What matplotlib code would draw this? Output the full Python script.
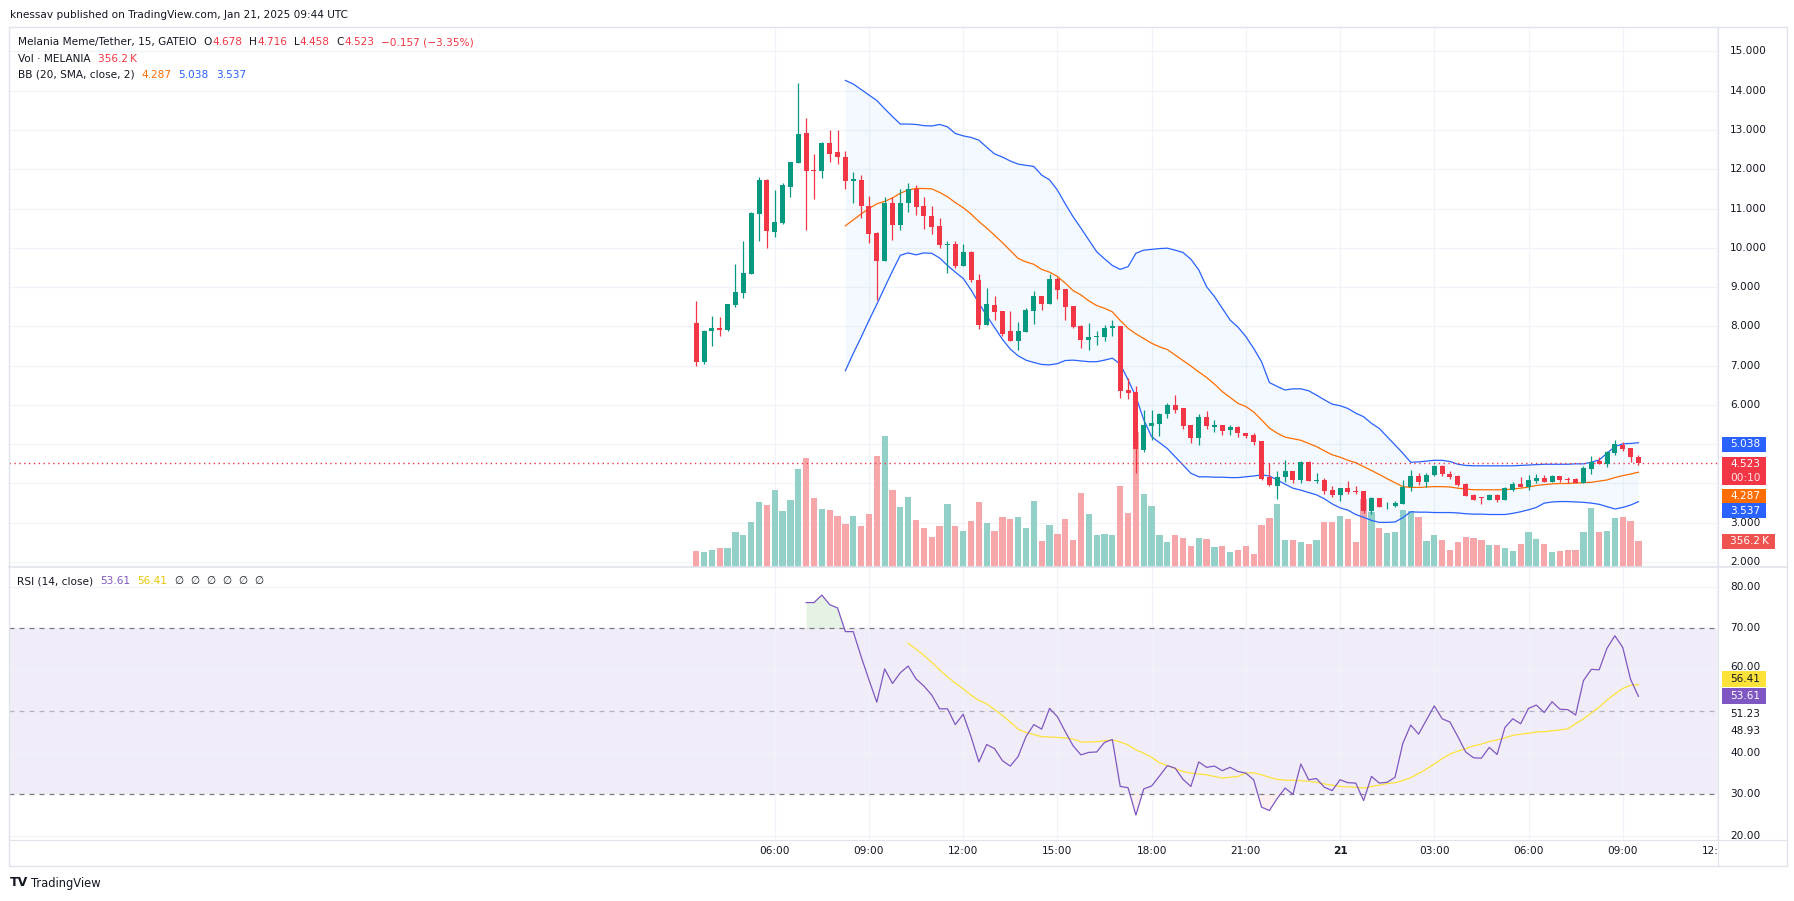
import matplotlib
matplotlib.use("Agg")
import numpy as np
import matplotlib.pyplot as plt
from matplotlib.patches import Rectangle

plt.rcParams["font.family"] = ["DejaVu Sans"]

# MELANIA/USDT 15 min candles (GATEIO), bar 0 = Jan 20 03:30 UTC
opens = [8.08, 7.10, 7.87, 7.97, 7.92, 8.54, 8.85, 9.33, 10.86, 11.73,
         10.40, 10.62, 11.55, 12.16, 12.92, 11.98, 11.95, 12.67, 12.44, 12.31,
         11.70, 11.73, 11.06, 10.38, 9.66, 11.14, 10.58, 11.14, 11.50, 11.06,
         10.81, 10.55, 10.06, 10.09, 9.54, 9.89, 9.18, 8.04, 8.54, 8.39,
         7.88, 7.63, 7.86, 8.39, 8.77, 8.57, 9.21, 8.95, 8.52, 8.01,
         7.65, 7.73, 7.73, 7.96, 8.01, 6.38, 6.33, 4.85, 5.46, 5.51,
         5.78, 6.00, 5.92, 5.49, 5.16, 5.69, 5.45, 5.48, 5.36, 5.44,
         5.29, 5.23, 5.08, 4.17, 3.94, 4.17, 4.32, 4.09, 4.55, 4.07,
         4.10, 3.83, 3.71, 3.89, 3.80, 3.80, 3.30, 3.63, 3.44, 3.43,
         3.48, 3.91, 4.19, 4.04, 4.22, 4.45, 4.24, 4.19, 3.99, 3.71,
         3.64, 3.58, 3.71, 3.58, 3.83, 3.99, 3.91, 4.06, 4.14, 4.04,
         4.19, 4.09, 4.11, 4.01, 4.37, 4.57, 4.50, 4.78, 4.98, 4.90,
         4.678]
highs = [8.65, 7.90, 8.26, 8.24, 8.58, 9.59, 10.17, 10.91, 11.80, 11.75,
         11.47, 11.65, 12.19, 14.20, 13.31, 12.39, 12.69, 13.00, 13.00, 12.46,
         11.93, 11.85, 11.32, 10.40, 11.29, 11.29, 11.50, 11.65, 11.60, 11.29,
         11.06, 10.76, 10.17, 10.17, 10.10, 9.92, 9.33, 8.98, 8.77, 8.39,
         8.39, 8.11, 8.47, 8.90, 8.78, 9.33, 9.26, 8.95, 8.52, 8.04,
         8.09, 7.88, 8.04, 8.16, 8.01, 6.69, 6.48, 5.87, 5.87, 5.80,
         6.05, 6.24, 5.93, 5.49, 5.77, 5.85, 5.62, 5.50, 5.50, 5.46,
         5.29, 5.29, 5.08, 4.52, 4.32, 4.60, 4.32, 4.57, 4.57, 4.27,
         4.14, 3.94, 3.89, 4.06, 3.94, 3.81, 3.66, 3.64, 3.53, 3.56,
         4.09, 4.34, 4.27, 4.27, 4.47, 4.47, 4.32, 4.22, 4.01, 3.73,
         3.66, 3.73, 3.73, 3.91, 4.04, 4.17, 4.22, 4.24, 4.22, 4.22,
         4.19, 4.17, 4.14, 4.45, 4.70, 4.67, 4.83, 5.11, 5.06, 4.90,
         4.716]
lows = [7.00, 7.05, 7.51, 7.76, 7.89, 8.50, 8.72, 9.33, 10.17, 10.00,
        10.28, 10.61, 11.29, 12.16, 10.45, 11.24, 11.78, 12.18, 12.13, 11.50,
        11.14, 10.76, 10.12, 8.67, 9.66, 10.20, 10.45, 10.91, 10.84, 10.48,
        10.35, 10.00, 9.36, 9.49, 9.53, 9.13, 7.93, 8.03, 8.16, 7.76,
        7.62, 7.40, 7.85, 8.06, 8.42, 8.56, 8.70, 8.16, 7.96, 7.45,
        7.40, 7.53, 7.63, 7.76, 6.18, 6.15, 4.27, 4.80, 5.11, 5.21,
        5.67, 5.80, 5.39, 5.03, 4.99, 5.39, 5.31, 5.24, 5.24, 5.18,
        5.16, 4.98, 4.09, 3.94, 3.61, 4.04, 4.01, 4.01, 4.06, 4.01,
        3.73, 3.66, 3.56, 3.73, 3.73, 3.25, 3.22, 3.40, 3.35, 3.40,
        3.47, 3.81, 3.96, 3.91, 4.19, 4.19, 4.12, 3.94, 3.68, 3.58,
        3.48, 3.57, 3.53, 3.57, 3.81, 3.90, 3.83, 4.01, 4.03, 4.03,
        4.04, 4.01, 4.00, 4.00, 4.24, 4.49, 4.42, 4.73, 4.83, 4.55,
        4.458]
closes = [7.10, 7.88, 7.97, 7.92, 8.57, 8.88, 9.36, 10.89, 11.73, 10.43,
          10.66, 11.60, 12.18, 12.90, 11.96, 11.95, 12.67, 12.39, 12.31, 11.70,
          11.75, 11.06, 10.35, 9.66, 11.14, 10.58, 11.14, 11.50, 11.04, 10.81,
          10.53, 10.07, 10.09, 9.54, 9.89, 9.18, 8.04, 8.57, 8.37, 7.81,
          7.63, 7.88, 8.42, 8.77, 8.57, 9.21, 8.93, 8.49, 7.98, 7.65,
          7.73, 7.76, 7.96, 8.01, 6.36, 6.30, 4.88, 5.49, 5.54, 5.78,
          6.01, 5.87, 5.46, 5.16, 5.69, 5.46, 5.48, 5.34, 5.44, 5.29,
          5.21, 5.06, 4.12, 3.96, 4.17, 4.32, 4.09, 4.55, 4.06, 4.10,
          3.81, 3.71, 3.89, 3.78, 3.79, 3.30, 3.63, 3.40, 3.46, 3.50,
          3.91, 4.19, 4.04, 4.22, 4.45, 4.24, 4.17, 3.96, 3.68, 3.58,
          3.62, 3.71, 3.58, 3.89, 3.99, 3.91, 4.09, 4.14, 4.04, 4.19,
          4.09, 4.08, 4.01, 4.39, 4.55, 4.50, 4.80, 5.01, 4.88, 4.680,
          4.523]
# volume in thousands
volume_k = [217, 203, 231, 259, 259, 481, 439, 619, 897, 855,
            1063, 772, 925, 1355, 1507, 952, 800, 786, 703, 592,
            703, 564, 730, 1535, 1812, 1063, 828, 966, 647, 536,
            411, 564, 869, 564, 495, 633, 897, 606, 495, 689,
            661, 689, 536, 911, 356, 578, 453, 661, 370, 1022,
            730, 439, 453, 439, 1119, 744, 1872, 1008, 841, 439,
            342, 439, 398, 287, 398, 384, 273, 287, 203, 231,
            287, 176, 578, 675, 869, 370, 370, 342, 314, 370,
            619, 619, 703, 661, 342, 938, 758, 536, 467, 481,
            786, 772, 689, 356, 439, 370, 231, 342, 411, 398,
            370, 300, 300, 259, 217, 314, 481, 384, 314, 203,
            217, 231, 231, 481, 814, 481, 495, 675, 689, 633,
            356.2]

# Bollinger bands (20, 2) from bar 19
BB_START = 19
bb_upper = [14.26, 14.17, 14.03, 13.89, 13.75, 13.54, 13.34, 13.15, 13.15, 13.14,
            13.11, 13.10, 13.14, 13.08, 12.91, 12.85, 12.81, 12.74, 12.56, 12.39,
            12.31, 12.21, 12.13, 12.10, 12.07, 11.85, 11.73, 11.47, 11.12, 10.79,
            10.50, 10.20, 9.90,
            9.72, 9.55, 9.45, 9.52, 9.86, 9.94, 9.96, 9.98, 9.99, 9.94,
            9.88, 9.71, 9.44, 9.01, 8.76, 8.46, 8.16, 7.98, 7.74, 7.44,
            7.10, 6.57, 6.47, 6.38, 6.41, 6.41, 6.36, 6.25, 6.13, 6.02,
            5.98, 5.91, 5.79, 5.70, 5.53, 5.40, 5.19, 4.98, 4.77, 4.54,
            4.55, 4.57, 4.59, 4.59, 4.56, 4.49, 4.46, 4.45, 4.45, 4.45,
            4.45, 4.45, 4.45, 4.46, 4.47,
            4.48, 4.49, 4.49, 4.49, 4.49, 4.50, 4.50, 4.54, 4.60, 4.77,
            4.94, 5.01, 5.02, 5.038]
bb_basis = [10.56, 10.71, 10.86, 11.00, 11.12, 11.18, 11.27, 11.39, 11.47, 11.51,
            11.51, 11.50, 11.41, 11.30, 11.15, 11.02, 10.86, 10.67, 10.50, 10.32,
            10.13, 9.93, 9.73, 9.64, 9.58, 9.45, 9.38, 9.27, 9.10, 8.91,
            8.80, 8.65, 8.53,
            8.46, 8.37, 8.15, 7.95, 7.81, 7.69, 7.57, 7.48, 7.41, 7.27,
            7.13, 6.99, 6.84, 6.70, 6.53, 6.34, 6.19, 6.04, 5.96, 5.82,
            5.62, 5.41, 5.28, 5.18, 5.14, 5.10, 5.02, 4.94, 4.83, 4.73,
            4.67, 4.59, 4.53, 4.43, 4.33, 4.23, 4.12, 4.02, 3.92, 3.90,
            3.90, 3.91, 3.92, 3.92, 3.91, 3.88, 3.86, 3.84, 3.84, 3.84,
            3.84, 3.84, 3.86, 3.88, 3.91,
            3.95, 3.97, 3.99, 4.00, 4.00, 4.01, 4.02, 4.03, 4.06, 4.09,
            4.15, 4.20, 4.24, 4.287]
bb_lower = [6.87, 7.31, 7.72, 8.15, 8.56, 8.99, 9.41, 9.81, 9.87, 9.82,
            9.87, 9.86, 9.74, 9.55, 9.38, 9.22, 8.93, 8.59, 8.27, 7.97,
            7.67, 7.42, 7.25, 7.14, 7.08, 7.03, 7.02, 7.05, 7.13, 7.14,
            7.12, 7.10, 7.10,
            7.14, 7.19, 7.04, 6.64, 6.21, 5.62, 5.19, 5.04, 4.89, 4.68,
            4.47, 4.26, 4.17, 4.17, 4.16, 4.16, 4.15, 4.15, 4.17, 4.19,
            4.22, 4.19, 4.09, 3.98, 3.88, 3.83, 3.77, 3.71, 3.61, 3.48,
            3.38, 3.32, 3.21, 3.14, 3.06, 3.01, 3.01, 3.02, 3.13, 3.28,
            3.27, 3.27, 3.26, 3.26, 3.26, 3.25, 3.23, 3.22, 3.22, 3.21,
            3.21, 3.21, 3.24, 3.28, 3.33,
            3.39, 3.50, 3.53, 3.54, 3.54, 3.53, 3.52, 3.50, 3.47, 3.41,
            3.35, 3.39, 3.45, 3.537]

# RSI(14) from bar 14, its MA from bar 27
RSI_START = 14
rsi = [76.2, 76.2, 78.0, 75.7, 74.9, 69.2, 69.2, 63.2, 57.6, 52.2,
       60.2, 56.7, 59.3, 60.9, 57.8, 56.1, 53.9, 50.6, 50.6, 46.8,
       49.3, 43.9, 37.8, 42.0, 41.0, 38.1, 36.8,
       39.1, 43.9, 46.8, 45.7, 50.7, 48.7, 45.1, 41.7, 39.5, 40.1,
       40.2, 42.5, 43.2, 31.9, 31.6, 25.0, 31.3, 32.0, 34.4, 36.9,
       36.3, 33.6, 31.9, 37.8, 36.5, 36.8, 35.7, 36.5, 35.5, 35.1,
       33.5, 26.9, 26.1, 29.0, 31.5, 30.0, 37.3, 33.5, 33.8, 31.7,
       30.9, 33.5, 32.8, 32.7, 28.5, 34.3, 32.7, 32.9, 34.1, 42.3,
       46.7, 44.5, 47.9, 51.3, 48.2, 47.4, 43.9, 40.2, 38.8, 38.7,
       41.3, 39.6, 46.1, 48.2, 47.0, 50.7, 51.5, 49.7, 52.3, 50.5,
       50.4, 49.1, 57.4, 60.1, 60.0, 65.2, 68.2, 65.4, 57.7, 53.61]
RSI_MA_START = 27
rsi_ma = [66.4, 65.0, 63.5, 61.8, 60.0, 58.3, 56.8, 55.4, 53.9, 52.6,
          51.8, 50.4, 49.0, 47.4,
          45.7, 44.9, 44.4, 43.9, 43.8, 43.7, 43.6, 43.3, 42.6, 42.6,
          42.7, 42.9, 43.1, 42.6, 41.9, 40.7, 39.9, 38.9, 37.6, 36.9,
          36.2, 35.5, 35.1, 34.9, 34.7, 34.3, 33.9, 34.1, 34.3, 35.1,
          35.2, 34.7, 34.1, 33.6, 33.4, 33.4, 33.3, 33.1, 32.9, 32.5,
          32.2, 31.9, 31.8, 31.7, 31.5, 31.9, 32.2, 32.6, 32.8, 33.3,
          34.0, 35.0, 36.1, 37.3, 38.6, 39.7, 40.4, 41.0, 41.7, 42.1,
          42.7, 43.1, 43.6, 44.2, 44.5, 44.7, 45.0, 45.1, 45.3, 45.5,
          45.8, 47.0, 48.2, 49.6, 51.0, 52.7, 54.2, 55.5, 56.3, 56.41]

time_ticks = [10, 22, 34, 46, 58, 70, 82, 94, 106, 118, 130]
time_labels = ["06:00", "09:00", "12:00", "15:00", "18:00", "21:00", "21",
               "03:00", "06:00", "09:00", "12:00"]
price_ticks = list(range(2, 16))
rsi_grid = [20, 40, 60, 80]
rsi_labels = [20, 30, 40, 60, 70, 80]

# colours
UP, DOWN = "#089981", "#F23645"
UP_VOL, DOWN_VOL = "#93d1c8", "#f7a6a9"
BLUE, ORANGE, PURPLE, YELLOW = "#2962FF", "#FF6D00", "#7E57C2", "#FDE23A"
TEXT, GRID, BORDER = "#131722", "#F0F3FA", "#E0E3EB"
FS = 7.6

# layout in pixels
W, H = 1794, 901
PL, PR = 9, 1717.5
TOP, SEP, RBOT, BBOT, BR = 27.5, 567, 840, 866, 1787


def rect(l, t, r, b):
    return [l / W, 1 - b / H, (r - l) / W, (b - t) / H]


fig = plt.figure(figsize=(W / 100, H / 100), dpi=100, facecolor="white")

ax_grid = fig.add_axes(rect(PL, TOP, PR, SEP))
ax_vol = fig.add_axes(rect(PL, TOP, PR, SEP), sharex=ax_grid)
ax = fig.add_axes(rect(PL, TOP, PR, SEP), sharex=ax_grid, sharey=ax_grid)
ax_rsi = fig.add_axes(rect(PL, SEP, PR, RBOT), sharex=ax_grid)
ax_time = fig.add_axes(rect(PL, RBOT, PR, BBOT), sharex=ax_grid)
ax_grid.set_zorder(0)
ax_vol.set_zorder(1)
ax.set_zorder(2)
for a in (ax_vol, ax, ax_time):
    a.patch.set_visible(False)
for a in (ax_grid, ax_vol, ax, ax_rsi, ax_time):
    for s in a.spines.values():
        s.set_visible(False)
    a.tick_params(left=False, bottom=False, labelleft=False, labelbottom=False)

ax_grid.set_xlim(-87.52, 130.07)
ax_grid.set_ylim(1.874, 15.608)
ax_grid.set_xticks(time_ticks)
ax_grid.set_yticks(price_ticks)
ax_grid.grid(True, color=GRID, lw=0.9)

# volume
n = len(closes)
x = np.arange(n)
o, h, l, c = (np.array(v) for v in (opens, highs, lows, closes))
up = c >= o
ax_vol.bar(x, volume_k, width=0.8, color=np.where(up, UP_VOL, DOWN_VOL), lw=0)
ax_vol.set_ylim(0, 7480)
ax_vol.set_yticks([])

# bollinger bands
xb = np.arange(BB_START, BB_START + len(bb_upper))
ax.fill_between(xb, bb_lower, bb_upper, color="#2196F3", alpha=0.05, lw=0, zorder=1)
ax.plot(xb, bb_upper, color=BLUE, lw=0.9, zorder=3)
ax.plot(xb, bb_lower, color=BLUE, lw=0.9, zorder=3)
ax.plot(xb, bb_basis, color=ORANGE, lw=0.9, zorder=3)

# candles
cols = np.where(up, UP, DOWN)
ax.vlines(x, l, h, colors=cols, lw=0.9, zorder=4)
ax.bar(x, np.maximum(np.abs(c - o), 0.025), width=0.64, bottom=np.minimum(o, c),
       color=cols, lw=0, zorder=5)
ax.axhline(c[-1], color=DOWN, lw=1, ls=(0, (1, 2.5)), zorder=3)

# RSI pane
ax_rsi.set_ylim(18.99, 84.77)
ax_rsi.set_xticks(time_ticks)
ax_rsi.set_yticks(rsi_grid)
ax_rsi.grid(True, color=GRID, lw=0.9)
ax_rsi.axhspan(30, 70, color=PURPLE, alpha=0.1, lw=0, zorder=0)
ax_rsi.axhline(70, color="#787B86", lw=0.9, ls=(0, (4, 4)))
ax_rsi.axhline(30, color="#787B86", lw=0.9, ls=(0, (4, 4)))
ax_rsi.axhline(50, color="#787B86", lw=0.9, ls=(0, (4, 4)), alpha=0.5)
xr = np.arange(RSI_START, RSI_START + len(rsi))
rv = np.array(rsi)
ax_rsi.fill_between(xr, 70, rv, where=rv > 70, interpolate=True, color="#4CAF50", alpha=0.15, lw=0)
ax_rsi.fill_between(xr, 30, rv, where=rv < 30, interpolate=True, color=DOWN, alpha=0.07, lw=0)
ax_rsi.plot(xr, rv, color=PURPLE, lw=0.9, zorder=4)
xm = np.arange(RSI_MA_START, RSI_MA_START + len(rsi_ma))
ax_rsi.plot(xm, rsi_ma, color=YELLOW, lw=0.9, zorder=3)

# time axis
ax_time.set_ylim(0, 1)
for t, lab in zip(time_ticks, time_labels):
    ax_time.text(t, 0.56, lab, ha="center", va="center", fontsize=FS, color=TEXT,
                 clip_on=True, fontweight="bold" if lab == "21" else "normal")

# overlay in pixel coordinates for legends, axis labels and tags
ov = fig.add_axes([0, 0, 1, 1])
ov.set_xlim(0, W)
ov.set_ylim(H, 0)
ov.axis("off")
ov.set_zorder(10)
renderer = fig.canvas.get_renderer()


def py(axis, v):
    return H - axis.transData.transform((0, v))[1]


def line(x0, y0, parts, size=FS):
    for s, col, gap in parts:
        x0 += gap
        t = ov.text(x0, y0, s, color=col, fontsize=size, va="center", ha="left")
        x0 += t.get_window_extent(renderer).width


boxes = []


def tag(y, s, bg, fg="white", w=44, hh=15, top=None):
    t0 = y - hh / 2 if top is None else top
    boxes.append((t0, t0 + hh))
    ov.add_patch(Rectangle((1721.5, t0), w, hh, facecolor=bg, edgecolor="none", zorder=5))
    ov.text(1730, y, s, color=fg, fontsize=FS, va="center", ha="left", zorder=6)


def free(y):
    # axis labels that sit under a value tag are hidden, as on the chart
    return all(not (a - 2 <= y <= b + 2) for a, b in boxes)


ov.add_patch(Rectangle((8.5, 27), BR - 8.5, BBOT - 27, fill=False, ec=BORDER, lw=1))
ov.plot([8.5, BR], [SEP, SEP], color=BORDER, lw=1.2)
ov.plot([8.5, BR], [RBOT, RBOT], color=BORDER, lw=0.8)
ov.plot([PR, PR], [27, BBOT], color=BORDER, lw=0.8)

line(10, 15, [("knessav published on TradingView.com, Jan 21, 2025 09:44 UTC", TEXT, 0)], size=7.6)
chg = c[-1] - c[-2]
line(18, 42.3, [("Melania Meme/Tether, 15, GATEIO", TEXT, 0),
                ("O", TEXT, 7), (f"{o[-1]:.3f}", DOWN, 0),
                ("H", TEXT, 7), (f"{h[-1]:.3f}", DOWN, 0),
                ("L", TEXT, 7), (f"{l[-1]:.3f}", DOWN, 0),
                ("C", TEXT, 7), (f"{c[-1]:.3f}", DOWN, 0),
                (f"\u2212{abs(chg):.3f} (\u2212{abs(chg) / c[-2] * 100:.2f}%)", DOWN, 7)])
line(18, 59.3, [("Vol \u00b7 MELANIA", TEXT, 0), (f"{volume_k[-1]:.1f}\u2009K", DOWN, 7)])
line(18, 74.7, [("BB (20, SMA, close, 2)", TEXT, 0), (f"{bb_basis[-1]:.3f}", ORANGE, 7),
                (f"{bb_upper[-1]:.3f}", BLUE, 7), (f"{bb_lower[-1]:.3f}", BLUE, 7)])
line(17, 581, [("RSI (14, close)", TEXT, 0), (f"{rsi[-1]:.2f}", PURPLE, 7),
               (f"{rsi_ma[-1]:.2f}", "#E8C400", 7)] + [("\u2205", TEXT, 7)] * 6)

# value tags on the price scale
tag(py(ax, bb_upper[-1]) + 1.5, f"{bb_upper[-1]:.3f}", BLUE)
y_last = py(ax, c[-1]) + 1.5
tag(y_last, f"{c[-1]:.3f}", DOWN, hh=28, top=y_last - 7.5)
ov.text(1730, y_last + 13.7, "00:10", color="#fde3e5", fontsize=FS, va="center", ha="left", zorder=6)
tag(py(ax, bb_basis[-1]) + 23.8, f"{bb_basis[-1]:.3f}", ORANGE)
tag(py(ax, bb_lower[-1]) + 9.3, f"{bb_lower[-1]:.3f}", BLUE)
tag(py(ax_vol, volume_k[-1]), f"{volume_k[-1]:.1f}\u2009K", "#EF5350", w=53)
tag(py(ax_rsi, rsi_ma[-1]) - 5.4, f"{rsi_ma[-1]:.2f}", YELLOW, fg=TEXT, hh=16)
tag(py(ax_rsi, rsi[-1]), f"{rsi[-1]:.2f}", PURPLE, hh=16)

# price / rsi axis labels
for p in price_ticks:
    yy = py(ax, p)
    if free(yy) or p == 3:
        ov.text(1730, yy, f"{p:.3f}", fontsize=FS, color=TEXT, va="center", ha="left")
for r in rsi_labels:
    yy = py(ax_rsi, r)
    if r == 60:
        # partly covered by the MA tag: draw it just above the tag
        yy -= 3
    ov.text(1730, yy, f"{r:.2f}", fontsize=FS, color=TEXT, va="center", ha="left")
for v, dy in [(51.23, 7.8), (48.93, 14.9)]:
    ov.text(1730, py(ax_rsi, v) + dy, f"{v:.2f}", fontsize=FS, color=TEXT, va="center", ha="left")

# TradingView logo text
ov.text(10, 883, "TV", fontsize=9, fontweight="bold", color=TEXT, va="center", ha="left")
ov.text(31, 883, "TradingView", fontsize=8.3, color=TEXT, va="center", ha="left")

fig.savefig("out.png", dpi=100, facecolor="white")
